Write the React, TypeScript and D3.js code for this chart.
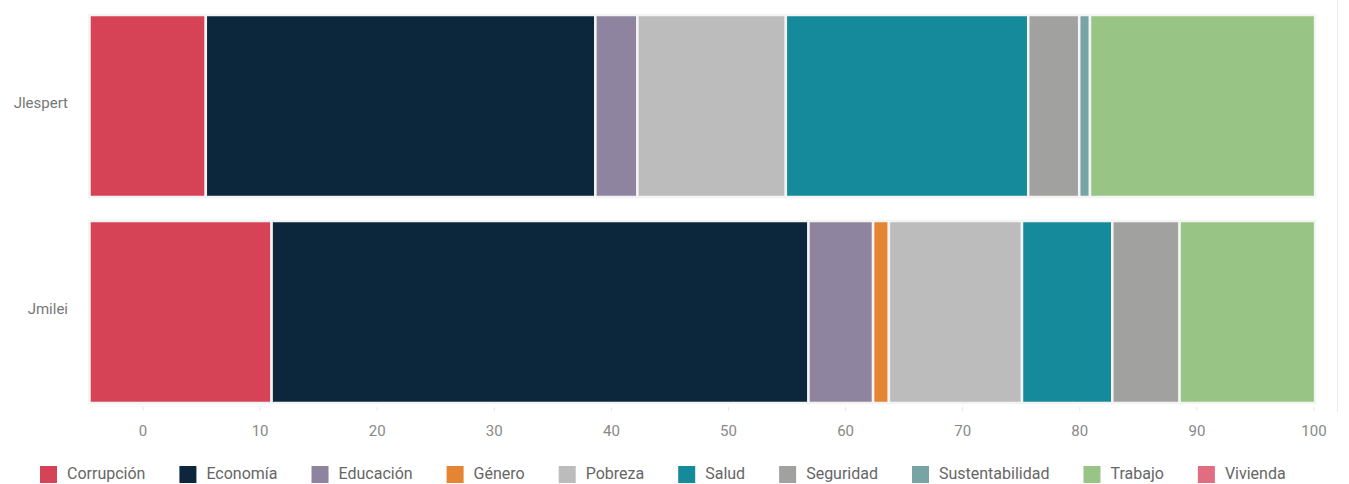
import React, { useMemo } from "react";
import * as d3 from "d3";

const people = ["Jlespert", "Jmilei"];
const topics = ["Corrupción", "Economía", "Educación", "Género", "Pobreza", "Salud", "Seguridad", "Sustentabilidad", "Trabajo", "Vivienda"];
const colors = ["#d64356", "#0c263c", "#8e849f", "#e58433", "#bbbcbb", "#158a9a", "#a1a29f", "#78a4a5", "#98c586", "#e06e80"];
const jlespert = [9.49, 31.79, 3.43, 0, 12.11, 19.78, 4.16, 0.88, 18.37, 0];
const jmilei = [14.86, 43.81, 5.27, 1.29, 10.86, 7.37, 5.49, 0, 11.06, 0];
const tickValues = [0, 10, 20, 30, 40, 50, 60, 70, 80, 90, 100];

const W = 1349;
const H = 484;
const FONT = "Roboto, 'Noto Sans', sans-serif";

export default function App() {
  const rows = people.map((p, i) => {
    const vals = i === 0 ? jlespert : jmilei;
    const r: any = { name: p };
    topics.forEach((t, j) => (r[t] = vals[j]));
    return r;
  });
  const series = d3.stack().keys(topics)(rows);

  const xBar = d3.scaleLinear().domain([0, 100]).range([89.5, 1315]);
  const xAxis = d3.scaleLinear().domain([0, 100]).range([143, 1314]);
  const y = d3.scaleBand().domain(people).range([3, 415]).paddingInner(0.1165).paddingOuter(0.0583);
  const color = d3.scaleOrdinal<string, string>().domain(topics).range(colors);

  const legendFont = 16;
  const legend = useMemo(() => {
    const ctx = document.createElement("canvas").getContext("2d")!;
    ctx.font = `${legendFont}px Roboto`;
    let x = 40;
    return topics.map((t) => {
      const w = ctx.measureText(t).width;
      const item = { t, x };
      x += 17 + 10 + w + 34;
      return item;
    });
  }, []);

  return (
    <svg width={W} height={H} style={{ position: "absolute", left: 0, top: 0, background: "#fff" }} fontFamily={FONT}>
      <line x1={1337.5} x2={1337.5} y1={0} y2={412} stroke="#ececec" strokeWidth={1} />
      {series.map((s) => (
        <g key={s.key} fill={color(s.key)}>
          {s.map((d, i) =>
            d[1] - d[0] > 0 ? (
              <rect
                key={i}
                x={xBar(d[0])}
                y={y(people[i])!}
                width={xBar(d[1]) - xBar(d[0])}
                height={y.bandwidth()}
                stroke="#f4f4f4"
                strokeWidth={2.5}
              />
            ) : null
          )}
        </g>
      ))}
      {people.map((p) => (
        <text key={p} x={68} y={y(p)! + y.bandwidth() / 2 - 3} dy="0.35em" textAnchor="end" fontSize={15} fill="#777">
          {p}
        </text>
      ))}
      {tickValues.map((v) => (
        <g key={v}>
          <line x1={xAxis(v)} x2={xAxis(v)} y1={407} y2={411} stroke="#e8e8e8" />
          <text x={xAxis(v)} y={431} dy="0.35em" textAnchor="middle" fontSize={15} fill="#888">
            {v}
          </text>
        </g>
      ))}
      {legend.map((l, i) => (
        <g key={l.t}>
          <rect x={l.x} y={466} width={17} height={17} fill={colors[i]} />
          <text x={l.x + 17 + 10} y={473} dy="0.35em" fontSize={legendFont} fill="#666">
            {l.t}
          </text>
        </g>
      ))}
    </svg>
  );
}
